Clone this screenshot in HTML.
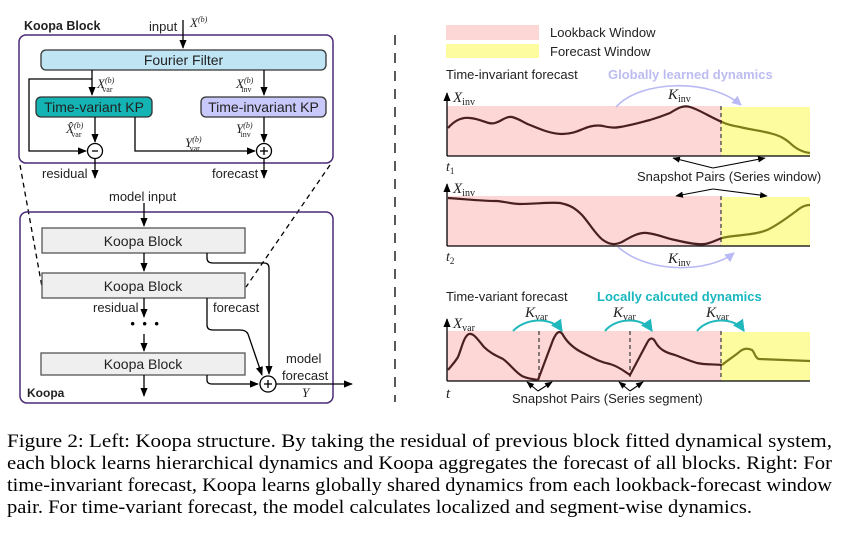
<!DOCTYPE html>
<html><head><meta charset="utf-8"><style>
html,body{margin:0;padding:0;background:#fff;width:861px;height:542px;overflow:hidden}
svg{display:block}
.s{font-family:"Liberation Sans",sans-serif}
.m{font-family:"Liberation Serif",serif;font-style:italic}
.c{font-family:"Liberation Serif",serif;font-size:18.5px}
</style></head><body>
<svg width="861" height="542" viewBox="0 0 861 542" xmlns="http://www.w3.org/2000/svg">
<defs>
<marker id="a" viewBox="0 0 10 10" refX="9" refY="5" markerWidth="7" markerHeight="7" orient="auto-start-reverse"><path d="M0,1 L10,5 L0,9 z" fill="#000"/></marker>
<marker id="al" viewBox="0 0 10 10" refX="9" refY="5" markerWidth="6" markerHeight="6" orient="auto"><path d="M0,0 L10,5 L0,10 z" fill="#b9b9f5"/></marker>
<marker id="at" viewBox="0 0 10 10" refX="9" refY="5" markerWidth="6" markerHeight="6" orient="auto"><path d="M0,0 L10,5 L0,10 z" fill="#20b8bd"/></marker>
</defs>
<g stroke="#000" stroke-width="1.3" fill="none">
<rect x="19" y="35" width="314" height="128" rx="7" stroke="#4b2a78" stroke-width="1.5"/>
<line x1="183" y1="20" x2="183" y2="48" marker-end="url(#a)"/>
<rect x="41" y="50" width="285" height="20" rx="5" fill="#bfe4f4" stroke="#333"/>
<rect x="36" y="97" width="116" height="20" rx="5" fill="#14b4b4" stroke="#333"/>
<rect x="201" y="97" width="125" height="20" rx="5" fill="#c8c8fa" stroke="#333"/>
<line x1="92" y1="70" x2="92" y2="95" marker-end="url(#a)"/>
<polyline points="92,79 29,79 29,151 86,151" marker-end="url(#a)"/>
<line x1="264" y1="70" x2="264" y2="95" marker-end="url(#a)"/>
<line x1="95" y1="117" x2="95" y2="142" marker-end="url(#a)"/>
<polyline points="135,117 135,151 255,151" marker-end="url(#a)"/>
<line x1="264" y1="117" x2="264" y2="142" marker-end="url(#a)"/>
<circle cx="95" cy="151" r="7.5" fill="#fff"/>
<circle cx="264" cy="151" r="7.5" fill="#fff"/>
<line x1="95" y1="159" x2="95" y2="178" marker-end="url(#a)"/>
<line x1="264" y1="159" x2="264" y2="178" marker-end="url(#a)"/>
<line x1="20" y1="165" x2="42" y2="287" stroke-dasharray="5,4"/>
<line x1="330" y1="165" x2="246" y2="287" stroke-dasharray="5,4"/>
<rect x="20" y="212" width="313" height="191" rx="7" stroke="#4b2a78" stroke-width="1.5"/>
<line x1="144" y1="203" x2="144" y2="226" marker-end="url(#a)"/>
<rect x="42" y="228" width="203" height="25" fill="#efefef" stroke="#555"/>
<rect x="42" y="273" width="203" height="25" fill="#efefef" stroke="#555"/>
<rect x="41" y="353" width="204" height="22" fill="#efefef" stroke="#555"/>
<line x1="144" y1="253" x2="144" y2="271" marker-end="url(#a)"/>
<line x1="144" y1="298" x2="144" y2="317" marker-end="url(#a)"/>
<line x1="144" y1="334" x2="144" y2="351" marker-end="url(#a)"/>
<line x1="144" y1="375" x2="144" y2="396" marker-end="url(#a)"/>
<path d="M207,253 V258 Q207,263 213,263 H264 Q269,263 269,268 V374" marker-end="url(#a)"/>
<path d="M207,298 V325 Q207,330 213,330 H240 Q246,330 248,334 L262,375" marker-end="url(#a)"/>
<path d="M207,375 V380 Q207,384 212,384 H258" marker-end="url(#a)"/>
<circle cx="268" cy="384" r="8" fill="#fff"/>
<line x1="276" y1="384" x2="352" y2="384" marker-end="url(#a)"/>
<line x1="395" y1="35" x2="395" y2="402" stroke-dasharray="10,8"/>
</g>
<g stroke="#000" stroke-width="1.3">
<line x1="92" y1="151" x2="98" y2="151"/>
<line x1="260" y1="151" x2="268" y2="151"/><line x1="264" y1="147" x2="264" y2="155"/>
<line x1="264" y1="384" x2="272" y2="384"/><line x1="268" y1="380" x2="268" y2="388"/>
</g>
<g class="s" font-size="13" fill="#222">
<text x="24" y="30" font-weight="bold" font-size="12.5">Koopa Block</text>
<text x="149" y="31">input</text>
<text x="183.5" y="65" text-anchor="middle" font-size="14">Fourier Filter</text>
<text x="94" y="112" text-anchor="middle" font-size="14">Time-variant KP</text>
<text x="263.5" y="112" text-anchor="middle" font-size="14">Time-invariant KP</text>
<text x="42" y="178">residual</text>
<text x="212" y="178">forecast</text>
<text x="109" y="201">model input</text>
<text x="143" y="246" text-anchor="middle" font-size="14">Koopa Block</text>
<text x="143" y="291" text-anchor="middle" font-size="14">Koopa Block</text>
<text x="143" y="369" text-anchor="middle" font-size="14">Koopa Block</text>
<text x="93" y="312">residual</text>
<text x="213" y="312">forecast</text>
<text x="286" y="363">model</text>
<text x="282" y="380">forecast</text>
<text x="27" y="397" font-weight="bold" font-size="12">Koopa</text>
<text x="550" y="37">Lookback Window</text>
<text x="550" y="56">Forecast Window</text>
<text x="446" y="79">Time-invariant forecast</text>
<text x="608" y="79" font-weight="bold" fill="#bcbcf2">Globally learned dynamics</text>
<text x="637" y="181">Snapshot Pairs (Series window)</text>
<text x="446" y="301">Time-variant forecast</text>
<text x="597" y="301" font-weight="bold" fill="#1ab7bf">Locally calcuted dynamics</text>
<text x="512" y="403">Snapshot Pairs (Series segment)</text>
</g>
<g font-size="22" fill="#000" font-weight="bold">
<text x="129" y="331">·</text><text x="141" y="331">·</text><text x="153" y="331">·</text>
</g>
<g class="m" font-size="13" fill="#222">
<text x="190" y="27">X<tspan font-size="8" dy="-5">(b)</tspan></text>
<text x="97" y="88">X<tspan font-size="8" dy="-5">(b)</tspan><tspan font-size="8" dx="-12" dy="9" font-style="normal">var</tspan></text>
<text x="236" y="88">X<tspan font-size="8" dy="-5">(b)</tspan><tspan font-size="8" dx="-12" dy="9" font-style="normal">inv</tspan></text>
<text x="66" y="133">X̂<tspan font-size="8" dy="-5">(b)</tspan><tspan font-size="8" dx="-12" dy="9" font-style="normal">var</tspan></text>
<text x="185" y="147">Y<tspan font-size="8" dy="-5">(b)</tspan><tspan font-size="8" dx="-12" dy="9" font-style="normal">var</tspan></text>
<text x="236" y="133">Y<tspan font-size="8" dy="-5">(b)</tspan><tspan font-size="8" dx="-12" dy="9" font-style="normal">inv</tspan></text>
<text x="302" y="397" font-size="13">Y</text>
<text x="453" y="102" font-size="15">X<tspan font-size="10" font-style="normal" dy="3">inv</tspan></text>
<text x="453" y="193" font-size="15">X<tspan font-size="10" font-style="normal" dy="3">inv</tspan></text>
<text x="453" y="328" font-size="15">X<tspan font-size="10" font-style="normal" dy="3">var</tspan></text>
<text x="668" y="99" font-size="15">K<tspan font-size="10" font-style="normal" dy="3">inv</tspan></text>
<text x="668" y="263" font-size="15">K<tspan font-size="10" font-style="normal" dy="3">inv</tspan></text>
<text x="525" y="317" font-size="15">K<tspan font-size="10" font-style="normal" dy="3">var</tspan></text>
<text x="613" y="317" font-size="15">K<tspan font-size="10" font-style="normal" dy="3">var</tspan></text>
<text x="706" y="317" font-size="15">K<tspan font-size="10" font-style="normal" dy="3">var</tspan></text>
<text x="446" y="171" font-size="14">t<tspan font-size="9" font-style="normal" dy="3">1</tspan></text>
<text x="446" y="261" font-size="14">t<tspan font-size="9" font-style="normal" dy="3">2</tspan></text>
<text x="446" y="398" font-size="15">t</text>
</g>
<rect x="446" y="25" width="93" height="15" fill="#fdd6d6"/>
<rect x="446" y="44" width="93" height="14" fill="#fdfda0"/>
<rect x="447" y="106" width="274" height="50" fill="#fdd6d6"/>
<rect x="721" y="107" width="89" height="49" fill="#fdfda0"/>
<rect x="447" y="196" width="274" height="50" fill="#fdd6d6"/>
<rect x="721" y="197" width="89" height="49" fill="#fdfda0"/>
<rect x="447" y="331" width="274" height="50" fill="#fdd6d6"/>
<rect x="721" y="332" width="89" height="49" fill="#fdfda0"/>
<g stroke="#000" stroke-width="1.3" fill="none">
<line x1="447" y1="156" x2="447" y2="93" marker-end="url(#a)"/><line x1="447" y1="156" x2="810" y2="156"/>
<line x1="447" y1="246" x2="447" y2="184" marker-end="url(#a)"/><line x1="447" y1="246" x2="810" y2="246"/>
<line x1="447" y1="381" x2="447" y2="319" marker-end="url(#a)"/><line x1="447" y1="381" x2="810" y2="381"/>
<g stroke-dasharray="4,3" stroke="#444">
<line x1="721" y1="106" x2="721" y2="156"/><line x1="721" y1="196" x2="721" y2="246"/>
<line x1="721" y1="331" x2="721" y2="381"/><line x1="539" y1="331" x2="539" y2="381"/><line x1="630" y1="331" x2="630" y2="381"/>
</g>
<g stroke-width="1.1">
<line x1="713" y1="168" x2="673" y2="158" marker-end="url(#a)"/><line x1="713" y1="168" x2="765" y2="158" marker-end="url(#a)"/>
<line x1="713" y1="189" x2="676" y2="196" marker-end="url(#a)"/><line x1="713" y1="189" x2="767" y2="196" marker-end="url(#a)"/>
<line x1="538" y1="391" x2="527" y2="382" marker-end="url(#a)"/><line x1="538" y1="391" x2="552" y2="382" marker-end="url(#a)"/>
<line x1="630" y1="391" x2="619" y2="382" marker-end="url(#a)"/><line x1="630" y1="391" x2="643" y2="382" marker-end="url(#a)"/>
</g>
</g>
<g fill="none" stroke-width="2.2" stroke-linejoin="round">
<path stroke="#4a1f1f" d="M448,128 C455,120 462,117 470,118 C482,119 488,125 495,123 C502,121 506,116 512,117 C520,119 524,123 530,125 C542,130 552,134 562,134 C572,134 578,131 583,129 C592,125 598,125 603,126 C610,128 615,128 620,127 C632,125 642,122 650,120 C660,117 665,115 670,113 C678,108 683,105 690,107 C700,110 710,117 722,122"/>
<path stroke="#7d7d1a" d="M722,122 C728,125 734,126 740,127 C752,130 764,131 773,134 C780,136 784,138 790,143 C796,149 802,152 810,153"/>
<path stroke="#4a1f1f" d="M448,198 C465,199 480,201 497,201 C507,202 512,204 520,204 C535,204 550,202 560,203 C570,205 575,208 582,215 C590,224 596,235 603,240 C610,245 615,245 622,242 C632,236 640,232 647,233 C657,234 665,238 675,240 C688,243 698,245 705,244 C712,243 716,240 722,238"/>
<path stroke="#7d7d1a" d="M722,238 C730,236 736,236 743,235 C752,234 760,233 767,230 C778,225 788,217 795,212 C800,208 804,205 810,205"/>
<path stroke="#4a1f1f" d="M448,370 C452,365 455,362 458,357 C462,347 464,336 469,334 C474,333 478,340 484,347 C490,353 497,356 503,359 C510,364 515,372 522,376 C528,379 533,379 538,380 L553,340 C557,331 560,330 563,335 C567,342 573,348 583,353 C593,358 600,362 610,364 C620,367 625,372 630,375 L647,343 C650,337 653,337 656,343 C660,350 667,353 675,355 C683,358 690,361 697,363 C706,365 714,364 722,365"/>
<path stroke="#7d7d1a" d="M722,365 C728,360 733,357 738,353 C743,348 748,348 752,350 C755,353 755,358 759,359 L810,361"/>
</g>
<g fill="none" stroke-width="1.6">
<path stroke="#b9b9f5" d="M616,107 C640,80 710,78 741,105" marker-end="url(#al)"/>
<path stroke="#b9b9f5" d="M618,247 C650,275 710,272 734,253" marker-end="url(#al)"/>
<g stroke="#20b8bd" stroke-width="2">
<path d="M513,331 C525,318 552,316 562,331" marker-end="url(#at)"/>
<path d="M605,331 C615,318 642,316 652,331" marker-end="url(#at)"/>
<path d="M697,331 C707,318 734,316 744,331" marker-end="url(#at)"/>
</g>
</g>
<g class="c" fill="#000">
<text x="7" y="447" textLength="825" lengthAdjust="spacingAndGlyphs">Figure 2: Left: Koopa structure. By taking the residual of previous block fitted dynamical system,</text>
<text x="7" y="469" textLength="825" lengthAdjust="spacingAndGlyphs">each block learns hierarchical dynamics and Koopa aggregates the forecast of all blocks. Right: For</text>
<text x="7" y="491" textLength="825" lengthAdjust="spacingAndGlyphs">time-invariant forecast, Koopa learns globally shared dynamics from each lookback-forecast window</text>
<text x="7" y="513" textLength="745" lengthAdjust="spacingAndGlyphs">pair. For time-variant forecast, the model calculates localized and segment-wise dynamics.</text>
</g>
</svg>
</body></html>
